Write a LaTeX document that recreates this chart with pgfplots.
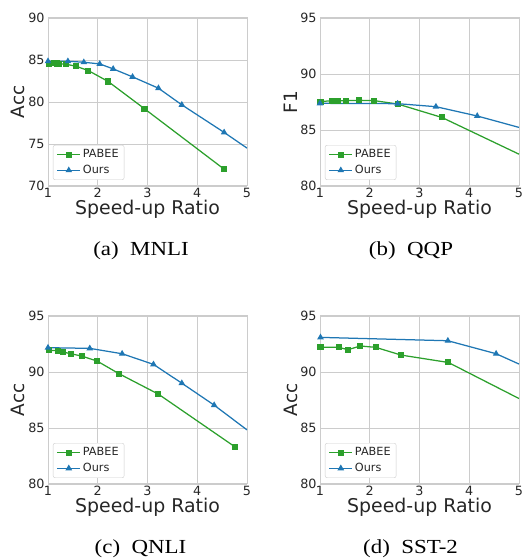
\documentclass[border=0pt]{standalone}
\usepackage{fontspec}
\setmainfont{Liberation Serif}
\newfontfamily\dejavu{DejaVu Sans}
\usepackage{pgfplots}
\pgfplotsset{compat=1.18}
\definecolor{cgreen}{HTML}{2CA02C}
\definecolor{cblue}{HTML}{1F77B4}
\definecolor{gridc}{HTML}{CCCCCC}
\definecolor{txt}{HTML}{262626}
\pgfplotsset{mystyle/.style={
  scale only axis, width=199bp, height=168bp,
  xmin=1, xmax=5, xtick={1,2,3,4,5},
  grid=major, major grid style={gridc, line width=0.8bp},
  axis line style={gridc, line width=1bp},
  major tick length=0pt,
  tick label style={font=\dejavu\fontsize{12.8}{12.8}\selectfont, text=txt},
  xticklabel style={inner sep=2bp},
  /pgf/number format/assume math mode=true,
  xlabel={Speed-up Ratio},
  xlabel style={font=\dejavu\fontsize{19}{19}\selectfont, text=txt, at={(axis description cs:0.5,-0.1726)}, anchor=base},
  ylabel style={font=\dejavu\fontsize{18.5}{18.5}\selectfont, text=txt, at={(axis description cs:-0.1156,0.5)}, anchor=base},
  legend style={at={(axis description cs:0.025,0.036)}, anchor=south west, draw=gridc, rounded corners=2bp,
    font=\dejavu\fontsize{11.3}{12}\selectfont, text=txt, fill=white, inner xsep=3.5bp, inner ysep=2.5bp,
    row sep=2bp},
  legend cell align=left,
  legend image code/.code={\draw[mark repeat=2,mark phase=2] plot coordinates {(0bp,0bp) (11.5bp,0bp) (23bp,0bp)};},
}}
\pgfplotsset{pab/.style={cgreen, line width=1.25bp, mark=square*, mark size=2.4bp, mark options={solid}},
  our/.style={cblue, line width=1.25bp, mark=triangle*, mark size=2.6bp, mark options={solid}},
  pabx/.style={cgreen, line width=1.25bp, no markers, forget plot},
  ourx/.style={cblue, line width=1.25bp, no markers, forget plot}}
\begin{document}
\begin{tikzpicture}[x=1bp,y=1bp]
\path[use as bounding box] (0,0) rectangle (522,559);
% (a) MNLI
\begin{axis}[mystyle, at={(48bp,373bp)}, anchor=south west, ymin=70, ymax=90, ytick={70,75,80,85,90}, ylabel={Acc}]
\addplot[pab] coordinates {(1.02,84.53) (1.13,84.6) (1.18,84.58) (1.23,84.56) (1.36,84.5) (1.56,84.26) (1.81,83.74) (2.21,82.44) (2.94,79.19) (4.54,72.0)};
\addlegendentry{PABEE}
\addplot[our] coordinates {(1.0,84.85) (1.40,84.85) (1.72,84.73) (2.04,84.53) (2.31,83.94) (2.70,82.99) (3.22,81.64) (3.69,79.66) (4.54,76.38)};
\addlegendentry{Ours}
\addplot[ourx] coordinates {(4.54,76.38) (5.0,74.51)};
\end{axis}
% (b) QQP
\begin{axis}[mystyle, at={(320bp,373bp)}, anchor=south west, ymin=80, ymax=95, ytick={80,85,90,95}, ylabel={F1}]
\addplot[pab] coordinates {(1.01,87.53) (1.24,87.62) (1.37,87.62) (1.53,87.62) (1.79,87.65) (2.09,87.62) (2.56,87.32) (3.45,86.12)};
\addlegendentry{PABEE}
\addplot[our] coordinates {(1.0,87.38) (2.56,87.35) (3.33,87.08) (4.16,86.25)};
\addlegendentry{Ours}
\addplot[pabx] coordinates {(3.45,86.12) (5.0,82.84)};
\addplot[ourx] coordinates {(4.16,86.25) (5.0,85.23)};
\end{axis}
% (c) QNLI
\begin{axis}[mystyle, at={(48bp,75bp)}, anchor=south west, ymin=80, ymax=95, ytick={80,85,90,95}, ylabel={Acc}]
\addplot[pab] coordinates {(1.02,91.93) (1.20,91.9) (1.30,91.78) (1.46,91.63) (1.68,91.42) (1.99,90.97) (2.43,89.84) (3.22,88.02) (4.76,83.31)};
\addlegendentry{PABEE}
\addplot[our] coordinates {(1.0,92.17) (1.84,92.11) (2.49,91.63) (3.12,90.68) (3.69,89.0) (4.34,87.04)};
\addlegendentry{Ours}
\addplot[ourx] coordinates {(4.34,87.04) (5.0,84.83)};
\end{axis}
% (d) SST-2
\begin{axis}[mystyle, at={(320bp,75bp)}, anchor=south west, ymin=80, ymax=95, ytick={80,85,90,95}, ylabel={Acc}]
\addplot[pab] coordinates {(1.01,92.2) (1.38,92.2) (1.56,91.99) (1.81,92.32) (2.12,92.2) (2.63,91.51) (3.58,90.85)};
\addlegendentry{PABEE}
\addplot[our] coordinates {(1.01,93.09) (3.57,92.79) (4.54,91.63)};
\addlegendentry{Ours}
\addplot[pabx] coordinates {(3.58,90.85) (5.0,87.63)};
\addplot[ourx] coordinates {(4.54,91.63) (5.0,90.71)};
\end{axis}
\node[anchor=base, xscale=1.15, font=\fontsize{20}{20}\selectfont] at (141,303) {(a)\hspace{0.5em}MNLI};
\node[anchor=base, xscale=1.15, font=\fontsize{20}{20}\selectfont] at (411,303) {(b)\hspace{0.5em}QQP};
\node[anchor=base, xscale=1.15, font=\fontsize{20}{20}\selectfont] at (140.5,5) {(c)\hspace{0.5em}QNLI};
\node[anchor=base, xscale=1.15, font=\fontsize{20}{20}\selectfont] at (410.5,5) {(d)\hspace{0.5em}SST-2};
\end{tikzpicture}
\end{document}
